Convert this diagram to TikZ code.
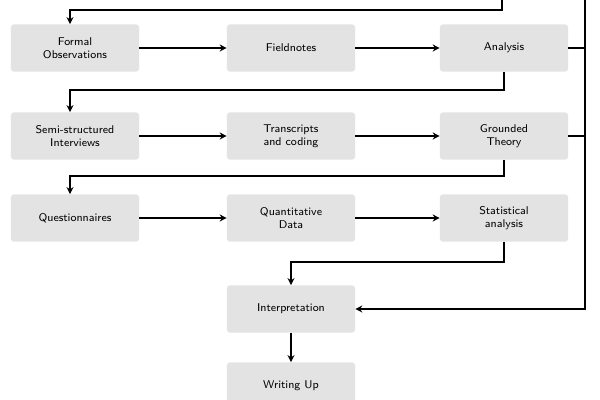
\documentclass[tikz,border=0pt]{standalone}
\usepackage{tikz}
\usetikzlibrary{arrows.meta}
\tikzset{
  stage/.style={fill=gray!22, rounded corners=2pt, minimum width=3.2cm, minimum height=1.18cm,
    align=center, font=\sffamily\footnotesize, inner sep=1pt},
  flow/.style={line width=1.3pt, -{Stealth[length=5pt,width=5pt]}},
  link/.style={line width=1.3pt}
}
\begin{document}
\begin{tikzpicture}[x=0.025cm, y=-0.025cm]
        \useasboundingbox (0, 0) rectangle (600, 400);
        \node[stage] (obs) at (75, 48) {Formal\\Observations};
        \node[stage] (field) at (291, 48) {Fieldnotes};
        \node[stage] (ana) at (504, 48) {Analysis};
        \node[stage] (semi) at (75, 136) {Semi-structured\\Interviews};
        \node[stage] (trans) at (291, 136) {Transcripts\\and coding};
        \node[stage] (ground) at (504, 136) {Grounded\\Theory};
        \node[stage] (quest) at (75, 218) {Questionnaires};
        \node[stage] (quant) at (291, 218) {Quantitative\\Data};
        \node[stage] (stat) at (504, 218) {Statistical\\analysis};
        \node[stage] (interp) at (291, 309) {Interpretation};
        \node[stage] (write) at (291, 386) {Writing Up};
        \coordinate (top) at (502, -2);
        \coordinate (rail) at (585, -2);
        % rows
        \draw[flow] (obs) -- (field);
        \draw[flow] (field) -- (ana);
        \draw[flow] (semi) -- (trans);
        \draw[flow] (trans) -- (ground);
        \draw[flow] (quest) -- (quant);
        \draw[flow] (quant) -- (stat);
        % links between rows
        \draw[flow] (top) |- (70, 10) -- (obs.north -| 70, 0);
        \draw[flow] (ana.south) |- (70, 90) -- (semi.north -| 70, 0);
        \draw[flow] (ground.south) |- (70, 176) -- (quest.north -| 70, 0);
        \draw[flow] (stat.south) |- (291, 262) -- (interp.north);
        \draw[flow] (interp) -- (write);
        % right rail
        \draw[link] (ana.east) -- (585, 48);
        \draw[link] (ground.east) -- (585, 136);
        \draw[flow] (rail) |- (interp.east);
\end{tikzpicture}
\end{document}
